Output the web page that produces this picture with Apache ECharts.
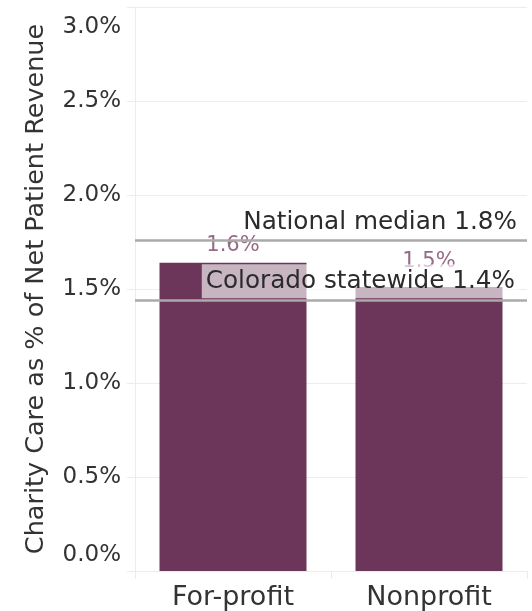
<!DOCTYPE html>
<html>
<head>
<meta charset="utf-8">
<script src="https://cdn.jsdelivr.net/npm/echarts@6/dist/echarts.min.js"></script>
<style>
html,body{margin:0;padding:0;background:#fff;}
#chart{width:532px;height:611px;}
</style>
</head>
<body>
<div id="chart"></div>
<script>
const categories = ['For-profit', 'Nonprofit'];
const charityCare = [1.64, 1.51];
const nationalMedian = 1.76;
const coloradoStatewide = 1.44;
const refNames = ['National median', 'Colorado statewide'];
const yTicks = [0, 0.5, 1.0, 1.5, 2.0, 2.5, 3.0];

const FONT = 'DejaVu Sans';
const chart = echarts.init(document.getElementById('chart'), null, {renderer: 'canvas'});
const pct = v => v.toFixed(1) + '%';
const labelDistances = [7, 15];

chart.setOption({
  animation: false,
  backgroundColor: '#fff',
  grid: {left: 135, right: 5, top: 7, bottom: 39.5, containLabel: false},
  xAxis: {
    type: 'category',
    data: categories,
    boundaryGap: true,
    axisLine: {show: true, lineStyle: {color: '#ececec', width: 1}},
    axisTick: {show: true, length: 8, lineStyle: {color: '#ececec'}},
    axisLabel: {margin: 13, fontFamily: FONT, fontSize: 27, color: '#333'},
    splitLine: {show: false}
  },
  yAxis: {
    type: 'value',
    min: yTicks[0],
    max: yTicks[yTicks.length - 1],
    interval: 0.5,
    name: 'Charity Care as % of Net Patient Revenue',
    nameLocation: 'middle',
    nameGap: 86,
    nameTextStyle: {fontFamily: FONT, fontSize: 25.5, color: '#333'},
    axisLine: {show: true, lineStyle: {color: '#ececec', width: 1}},
    axisTick: {show: true, length: 8, lineStyle: {color: '#ececec'}},
    splitLine: {show: true, lineStyle: {color: '#ececec', width: 1}},
    axisLabel: {
      margin: 14,
      fontFamily: FONT,
      fontSize: 23,
      color: '#333',
      formatter: function (v) {
        if (v === yTicks[yTicks.length - 1]) return '{max|' + pct(v) + '}';
        if (v === yTicks[0]) return '{min|' + pct(v) + '}';
        return pct(v);
      },
      rich: {
        max: {fontFamily: FONT, fontSize: 23, color: '#333', padding: [40, 0, 0, 0]},
        min: {fontFamily: FONT, fontSize: 23, color: '#333', padding: [0, 0, 32, 0]}
      }
    }
  },
  series: [{
    type: 'bar',
    data: charityCare.map((v, i) => ({value: v, label: {distance: labelDistances[i]}})),
    barWidth: '75%',
    itemStyle: {color: '#6b3659'},
    label: {
      show: true,
      position: 'top',
      fontFamily: FONT,
      fontSize: 21,
      color: '#946a87',
      formatter: p => pct(p.value)
    },
    markLine: {
      silent: true,
      symbol: 'none',
      z: 10,
      lineStyle: {color: '#aaaaaa', width: 2.5, type: 'solid'},
      label: {
        show: true,
        position: 'insideEndTop',
        fontFamily: FONT,
        fontSize: 24.7,
        color: '#2b2b2b',
        formatter: p => p.name + ' ' + pct(p.value)
      },
      data: [
        {name: refNames[0], yAxis: nationalMedian, label: {distance: [10, 5]}},
        {name: refNames[1], yAxis: coloradoStatewide,
         label: {distance: [8, 2], backgroundColor: 'rgba(255,255,255,0.63)', padding: [5, 4, 4, 4]}}
      ]
    }
  }]
});
</script>
</body>
</html>
